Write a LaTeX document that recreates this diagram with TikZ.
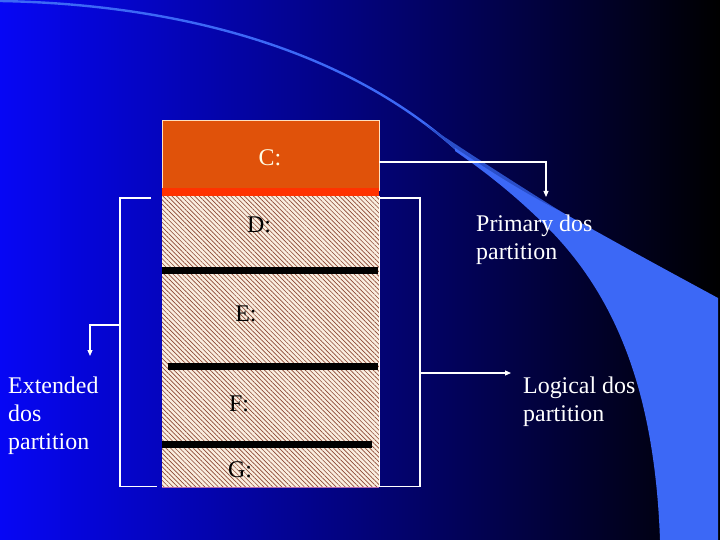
\documentclass[tikz,border=0pt]{standalone}
\usepackage{fontspec}
\setmainfont{Liberation Serif}
\usetikzlibrary{arrows.meta,patterns.meta}
\definecolor{bgleft}{RGB}{6,6,245}
\definecolor{bgmid}{RGB}{0,0,185}
\definecolor{band}{RGB}{60,104,246}
\definecolor{banddark}{RGB}{42,78,200}
\definecolor{pbeige}{RGB}{250,238,224}
\definecolor{phatch}{RGB}{140,72,52}
\definecolor{corange}{RGB}{224,82,10}
\definecolor{cred}{RGB}{255,50,0}
\begin{document}
\begin{tikzpicture}[x=1bp,y=-1bp,
  conn/.style={white,line width=1.1bp},
  arr/.style={conn,-{Triangle[length=6bp,width=5bp]}},
  lbl/.style={font=\fontsize{24}{28.3}\selectfont,inner sep=0pt,align=left,anchor=north west,text=white},
  drive/.style={font=\fontsize{24}{28.3}\selectfont,inner sep=0pt},
  sepline/.style={line width=7bp,black}]
\useasboundingbox (0,0) rectangle (720,540);
% background
\shade[left color=bgleft, middle color=bgmid, right color=black] (0,0) rectangle (720,540);
% swoosh
\draw[band,line width=2.4bp] (0,1) .. controls (170,4) and (340,45) .. (456,149);
\fill[banddark] (425,124) .. controls (470,154) and (512,181) .. (560,211)
  .. controls (512,188) and (480,167) .. (455,149) -- cycle;
\fill[band] (455,148) .. controls (490,171) and (522,192) .. (560,211)
  .. controls (620,245) and (670,272) .. (718,298) -- (718,540) -- (660,540)
  .. controls (655,400) and (620,300) .. (547,227)
  .. controls (520,200) and (490,175) .. (455,151) -- cycle;
% disk column
\fill[pbeige] (162,196) rectangle (379,487);
\fill[pattern={Lines[angle=-45,distance=3.2bp,line width=0.65bp]},pattern color=phatch] (162,196) rectangle (379,487);
\draw[white!70!pbeige,line width=0.6bp] (379,196) -- (379,487);
\draw[violet!60!white,line width=0.8bp] (162,487) -- (379,487);
\node[fill=corange,inner sep=0pt,minimum width=217bp,minimum height=70bp,anchor=north west,draw=white!75!orange,line width=0.6bp] (cbox) at (162,120) {};
\fill[cred] (162,188) rectangle (379,196);
\draw[sepline] (162,270) -- (378,270);
\draw[sepline] (168,366) -- (378,366);
\draw[sepline] (162,444) -- (372,444);
\node[drive,text=white!90!yellow] (c) at (270,158) {C:};
\node[drive] (d) at (259,225) {D:};
\node[drive] (e) at (246,314) {E:};
\node[drive] (f) at (239,404) {F:};
\node[drive] (g) at (240,470) {G:};
% labels
\node[lbl] (prim) at (476,215) {Primary dos\\partition};
\node[lbl] (logi) at (523,376.6) {Logical dos\\partition};
\node[lbl] (ext) at (8,376.6) {Extended\\dos\\partition};
% connectors
\coordinate (cR) at (379,162);
\coordinate (pA) at (546,197);
\draw[arr] (cR) -| (pA);
\coordinate (rT) at (379,198);
\coordinate (rB) at (379,486.5);
\draw[conn] (rT) -- (420,198) -- (420,486.5) -- (rB);
\coordinate (rM) at (420,373);
\coordinate (lA) at (511,373);
\draw[arr] (rM) -- (lA);
\coordinate (lT) at (151,198);
\coordinate (lB) at (157,486.5);
\draw[conn] (lT) -- (120,198) -- (120,486.5) -- (lB);
\coordinate (lM) at (120,325);
\coordinate (eA) at (90,356);
\draw[arr] (lM) -| (eA);
\end{tikzpicture}
\end{document}
